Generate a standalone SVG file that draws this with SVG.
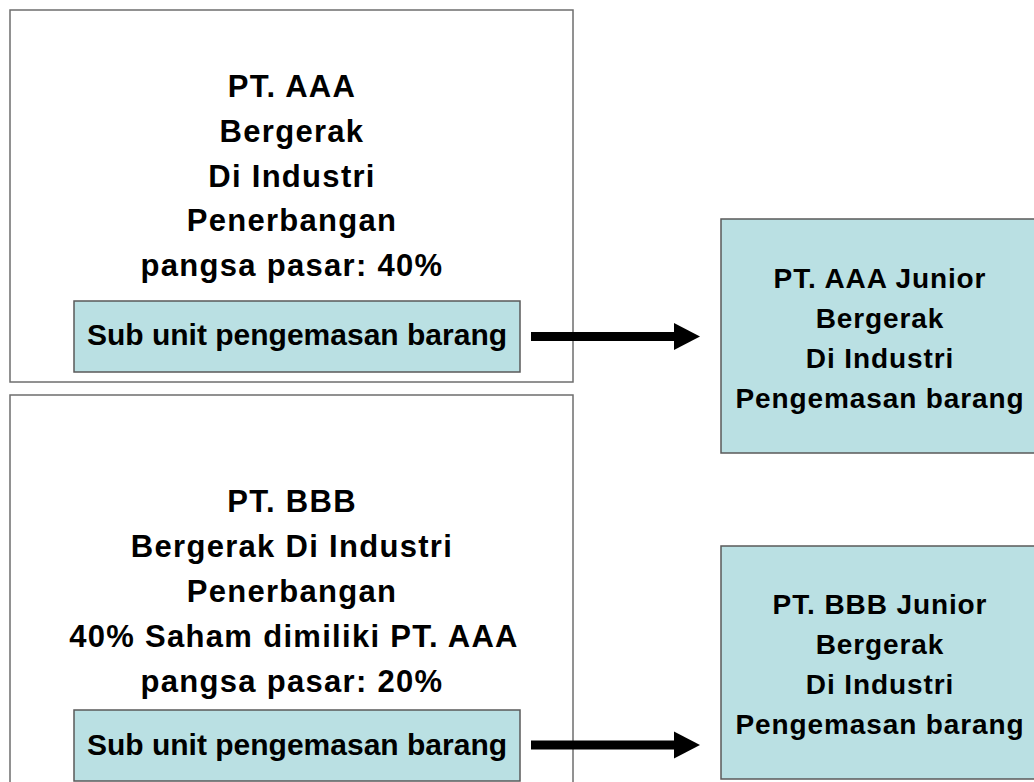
<svg xmlns="http://www.w3.org/2000/svg" width="1034" height="782" viewBox="0 0 1034 782">
<defs>
<style>
.big{fill:#ffffff;stroke:#6e6e6e;stroke-width:1.5}
.blue{fill:#bae0e3;stroke:#5a5a5a;stroke-width:1.5}
.t{font-family:"Liberation Sans",Arial,sans-serif;font-weight:bold;fill:#000;text-anchor:middle}
.tl{font-size:31px;letter-spacing:1.3px}
.ts{font-size:30px}
.tr{font-size:28px;letter-spacing:0.9px}
.conn{stroke:#000;stroke-width:9;fill:none}
</style>
<marker id="ah" markerUnits="userSpaceOnUse" markerWidth="27" markerHeight="28" refX="1" refY="14" orient="auto" viewBox="0 0 27 28">
<path d="M0,0.5 L26,14 L0,27.5 Z" fill="#000"/>
</marker>
</defs>
<rect width="1034" height="782" fill="#ffffff"/>
<g id="pt-aaa">
<rect class="big" x="10" y="10" width="563" height="372"/>
<text class="t tl" x="292" y="97">PT. AAA</text>
<text class="t tl" x="292" y="142">Bergerak</text>
<text class="t tl" x="292" y="187">Di Industri</text>
<text class="t tl" x="292" y="231">Penerbangan</text>
<text class="t tl" x="292" y="276">pangsa pasar: 40%</text>
</g>
<g id="aaa-sub">
<rect class="blue" x="74" y="301" width="446" height="71"/>
<text class="t ts" x="297" y="345">Sub unit pengemasan barang</text>
</g>
<g id="pt-bbb">
<rect class="big" x="10" y="395" width="563" height="400"/>
<text class="t tl" x="292" y="512">PT. BBB</text>
<text class="t tl" x="292" y="557">Bergerak Di Industri</text>
<text class="t tl" x="292" y="602">Penerbangan</text>
<text class="t tl" x="294" y="647">40% Saham dimiliki PT. AAA</text>
<text class="t tl" x="292" y="692">pangsa pasar: 20%</text>
</g>
<g id="bbb-sub">
<rect class="blue" x="74" y="710" width="446" height="71"/>
<text class="t ts" x="297" y="755">Sub unit pengemasan barang</text>
</g>
<g id="aaa-junior">
<rect class="blue" x="721" y="219" width="330" height="234"/>
<text class="t tr" x="880" y="288">PT. AAA Junior</text>
<text class="t tr" x="880" y="328">Bergerak</text>
<text class="t tr" x="880" y="368">Di Industri</text>
<text class="t tr" x="880" y="408">Pengemasan barang</text>
</g>
<g id="bbb-junior">
<rect class="blue" x="721" y="546" width="330" height="233"/>
<text class="t tr" x="880" y="614">PT. BBB Junior</text>
<text class="t tr" x="880" y="654">Bergerak</text>
<text class="t tr" x="880" y="694">Di Industri</text>
<text class="t tr" x="880" y="734">Pengemasan barang</text>
</g>
<g id="connectors">
<line class="conn" x1="531" y1="336.5" x2="675" y2="336.5" marker-end="url(#ah)"/>
<line class="conn" x1="531" y1="745" x2="675" y2="745" marker-end="url(#ah)"/>
</g>
</svg>
